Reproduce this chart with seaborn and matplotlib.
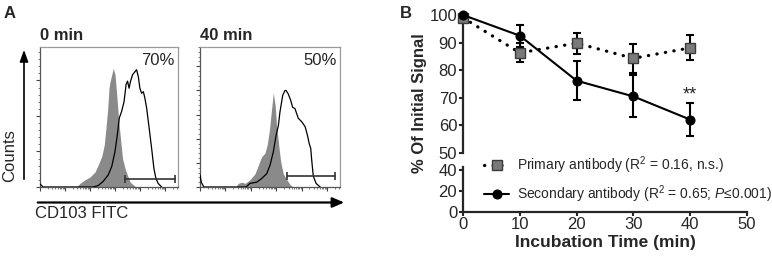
import numpy as np
import matplotlib
matplotlib.use("Agg")
import matplotlib.pyplot as plt
import seaborn as sns
from matplotlib.patches import FancyArrowPatch
from matplotlib.ticker import LogLocator, MultipleLocator, NullFormatter

# ---- panel A: CD103 FITC histograms (x = log10 fluorescence, y = counts)
grey0_x = [1.46, 1.59, 1.79, 1.99, 2.19, 2.32, 2.46, 2.56, 2.63, 2.70, 2.75, 2.79,
           2.86, 2.92, 2.99, 3.06, 3.14, 3.22, 3.29, 3.39, 3.48, 3.59, 3.72, 3.82]
grey0_y = [0, 5, 10, 14, 21, 31, 43, 59, 83, 111, 139, 148,
           158, 167, 158, 129, 92, 64, 40, 26, 17, 7, 3, 0]
open0_x = [0.0, 0.04, 0.12, 2.12, 2.32, 2.52, 2.72, 2.86, 2.99, 3.08, 3.16, 3.25,
           3.35, 3.43, 3.49, 3.55, 3.61, 3.69, 3.78, 3.85, 3.92, 3.98, 4.05, 4.12,
           4.18, 4.25, 4.35, 4.45, 4.54, 4.62, 4.71, 4.85]
open0_y = [4, 3, 0, 0, 2, 8, 17, 29, 50, 73, 97, 106,
           120, 144, 149, 139, 149, 158, 162, 165, 155, 139, 132, 134,
           125, 111, 83, 54, 26, 12, 5, 0]
grey40_x = [1.41, 1.50, 1.64, 1.77, 1.96, 2.16, 2.29, 2.42, 2.55, 2.64, 2.72, 2.80,
            2.88, 2.95, 3.01, 3.09, 3.17, 3.27, 3.41, 3.54, 3.65]
grey40_y = [0, 3, 4, 3, 6, 11, 18, 25, 28, 35, 46, 62,
            78, 68, 51, 35, 21, 11, 6, 2, 0]
open40_x = [0.0, 0.05, 0.15, 1.81, 1.96, 2.23, 2.42, 2.62, 2.75, 2.88, 2.99, 3.08,
            3.14, 3.25, 3.34, 3.38, 3.47, 3.56, 3.64, 3.73, 3.86, 4.00, 4.13, 4.22,
            4.29, 4.35, 4.39, 4.45, 4.56, 4.72]
open40_y = [10, 4, 0, 0, 3, 4, 7, 11, 18, 29, 43, 51,
            62, 76, 80, 80, 77, 72, 66, 65, 57, 54, 50, 43,
            36, 32, 22, 9, 3, 0]
gate0 = [3.39, 5.38]
gate40 = [3.42, 5.30]
gate0_level = 11
gate40_level = 9
panel_titles = ["0 min", "40 min"]
panel_pcts = ["70%", "50%"]

# ---- panel B: signal over time
times = [0, 10, 20, 30, 40]
primary_mean = [99.0, 86.3, 89.8, 84.3, 88.1]
primary_err = [0, 3.5, 3.8, 5.2, 4.5]
secondary_mean = [100.0, 92.5, 76.2, 70.5, 62.1]
secondary_err = [0, 4.0, 7.0, 7.6, 6.0]
primary_label = "Primary antibody (R$^2$ = 0.16, n.s.)"
secondary_label = "Secondary antibody (R$^2$ = 0.65; $P$\u22640.001)"

sns.set_style("ticks")
plt.rcParams["font.family"] = ["Liberation Sans", "DejaVu Sans"]
plt.rcParams["mathtext.fontset"] = "custom"
plt.rcParams["mathtext.rm"] = "Liberation Sans"
plt.rcParams["mathtext.it"] = "Liberation Sans:italic"
plt.rcParams["mathtext.bf"] = "Liberation Sans:bold"

W, H = 772, 257
fig = plt.figure(figsize=(W / 100, H / 100), dpi=100)


def fpos(px, py):
    return px / W, 1 - py / H


def hist_panel(rect, gx, gy, ox, oy, gate, gate_y, ymax, ymajor, yminor, title, pct):
    ax = fig.add_axes(rect)
    gx = np.power(10.0, gx)
    ox = np.power(10.0, ox)
    ax.fill_between(gx, gy, color="#8a8a8a", lw=0, zorder=1)
    sns.lineplot(x=ox, y=oy, ax=ax, color="black", linewidth=0.9, zorder=3)
    ax.plot(np.power(10.0, gate), [gate_y, gate_y], color="#333333", lw=1.2,
            marker="|", markersize=6, mew=1.2, zorder=4)
    ax.set_xscale("log")
    ax.set_xlim(1, 10 ** 5.5)
    ax.set_ylim(0, ymax)
    ax.xaxis.set_major_locator(LogLocator(base=10, numticks=10))
    ax.xaxis.set_minor_locator(LogLocator(base=10, subs=np.arange(2, 10), numticks=10))
    ax.xaxis.set_minor_formatter(NullFormatter())
    ax.yaxis.set_major_locator(MultipleLocator(ymajor))
    ax.yaxis.set_minor_locator(MultipleLocator(yminor))
    ax.set_xticklabels([])
    ax.set_yticklabels([])
    ax.tick_params(which="major", direction="out", length=3, width=0.8, color="#444444")
    ax.tick_params(which="minor", direction="out", length=1.5, width=0.6, color="#666666")
    for side in ["top", "right"]:
        ax.spines[side].set_color("#9a9a9a")
        ax.spines[side].set_linewidth(0.9)
    for side in ["left", "bottom"]:
        ax.spines[side].set_color("#555555")
        ax.spines[side].set_linewidth(0.9)
    ax.set_xlabel("")
    ax.set_ylabel("")
    ax.text(0.0, 1 + 11 / 140, title, transform=ax.transAxes, ha="left", va="center",
            fontsize=12, fontweight="bold")
    ax.text(0.975, 0.905, pct, transform=ax.transAxes, ha="right", va="center", fontsize=12)
    return ax


hist_panel([40 / W, 1 - 187 / H, 138 / W, 140 / H], grey0_x, grey0_y, open0_x, open0_y,
           gate0, gate0_level, 197, 50, 10, panel_titles[0], panel_pcts[0])
hist_panel([200 / W, 1 - 187 / H, 140 / W, 140 / H], grey40_x, grey40_y, open40_x, open40_y,
           gate40, gate40_level, 116, 20, 4, panel_titles[1], panel_pcts[1])

# axis arrows for panel A
fig.add_artist(FancyArrowPatch(fpos(24, 182), fpos(24, 47), transform=fig.transFigure,
                               arrowstyle="-|>,head_length=0.7,head_width=0.25",
                               mutation_scale=10, lw=1.2, color="black"))
fig.add_artist(FancyArrowPatch(fpos(35, 202.5), fpos(347, 202.5), transform=fig.transFigure,
                               arrowstyle="-|>,head_length=0.7,head_width=0.3",
                               mutation_scale=10, lw=1.6, color="black"))
fig.text(*fpos(10, 156), "Counts", rotation=90, ha="center", va="center", fontsize=12)
fig.text(*fpos(35, 214), "CD103 FITC", ha="left", va="center", fontsize=12)
fig.text(*fpos(4, 13), "A", ha="left", va="center", fontsize=12, fontweight="bold")
fig.text(*fpos(400, 13), "B", ha="left", va="center", fontsize=12, fontweight="bold")

# ---- panel B with broken y axis
ax_top = fig.add_axes([463 / W, 1 - 153 / H, 284 / W, 138 / H])
ax_bot = fig.add_axes([463 / W, 1 - 212 / H, 284 / W, 45 / H])

ax_top.errorbar(times, secondary_mean, yerr=secondary_err, fmt="none", ecolor="black",
                elinewidth=1.5, capsize=3.2, capthick=1.5, zorder=2, clip_on=False)
ax_top.errorbar(times, primary_mean, yerr=primary_err, fmt="none", ecolor="black",
                elinewidth=1.5, capsize=3.2, capthick=1.5, zorder=3, clip_on=False)
sns.lineplot(x=times, y=primary_mean, ax=ax_top, color="black", linestyle=(0, (0.1, 2.6)),
             linewidth=2.3, dash_capstyle="round", marker="s", markersize=6.5,
             markerfacecolor="#7a7a7a", markeredgecolor="#3c3c3c", markeredgewidth=1,
             label=primary_label, zorder=4, clip_on=False)
sns.lineplot(x=times, y=secondary_mean, ax=ax_top, color="black", linewidth=1.5,
             marker="o", markersize=6.5, markerfacecolor="black", markeredgecolor="black",
             label=secondary_label, zorder=5, clip_on=False)
ax_top.text(40, 71.0, "**", ha="center", va="center", fontsize=13)

ax_top.set_xlim(0, 50)
ax_top.set_ylim(50, 100)
ax_top.set_yticks([50, 60, 70, 80, 90, 100])
ax_top.set_xticks([])
ax_bot.set_xlim(0, 50)
ax_bot.set_ylim(0, 43)
ax_bot.set_yticks([0, 20, 40])
ax_bot.set_xticks([0, 10, 20, 30, 40, 50])
for ax in [ax_top, ax_bot]:
    ax.set_xlabel("")
    ax.set_ylabel("")
    ax.patch.set_alpha(0)
    for side in ["top", "right"]:
        ax.spines[side].set_visible(False)
    for side in ["left", "bottom"]:
        ax.spines[side].set_linewidth(1.6)
    ax.tick_params(direction="out", length=3.2, width=1.5, pad=1.0, labelsize=12)
ax_bot.tick_params(axis="x", pad=0.3)
ax_top.spines["bottom"].set_visible(False)

handles, labels = ax_top.get_legend_handles_labels()
if ax_top.get_legend() is not None:
    ax_top.get_legend().remove()
fig.legend(handles, labels, loc="upper left", bbox_to_anchor=fpos(484, 154), frameon=False,
           fontsize=10, handlelength=1.8, handletextpad=0.6, labelspacing=0.55,
           borderpad=0, borderaxespad=0)

fig.text(*fpos(419, 103), "% Of Initial Signal", rotation=90, ha="center", va="center",
         fontsize=12, fontweight="bold")
fig.text(*fpos(605, 242), "Incubation Time (min)", ha="center", va="center",
         fontsize=12.5, fontweight="bold")

fig.savefig("out.png", dpi=100)
